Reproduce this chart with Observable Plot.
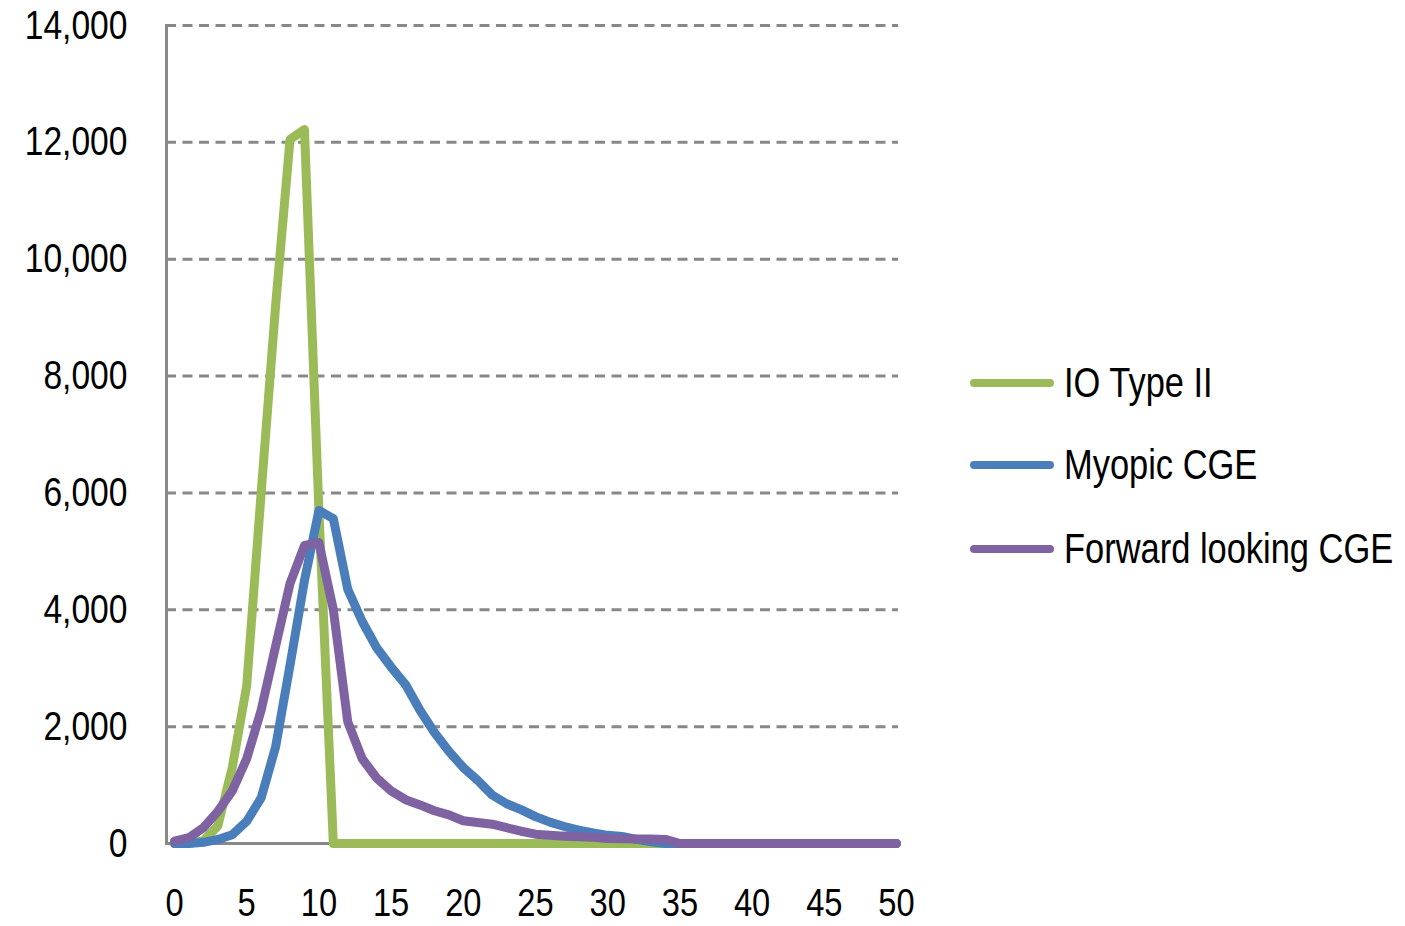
<!DOCTYPE html>
<html>
<head>
<meta charset="utf-8">
<script src="https://cdn.jsdelivr.net/npm/d3@7"></script>
<script src="https://cdn.jsdelivr.net/npm/@observablehq/plot@0.6"></script>
<style>
  html, body { margin: 0; padding: 0; background: #fff; }
  #wrap { position: relative; width: 1405px; height: 926px; overflow: hidden; }
  #legend { position: absolute; left: 968px; top: 0; font-family: "Liberation Sans", sans-serif; font-size: 42px; color: #000; }
  .item { position: absolute; left: 0; display: flex; align-items: center; white-space: nowrap; }
  .item svg { margin-right: 8px; flex: none; }
  .item span { display: inline-block; transform: scaleX(0.82); transform-origin: left center; }
</style>
</head>
<body>
<div id="wrap">
  <div id="chart"></div>
  <div id="legend"></div>
</div>
<script>
const years = d3.range(0, 51);
const seriesNames = ["IO Type II", "Myopic CGE", "Forward looking CGE"];
const seriesColors = ["#9BBB59", "#4A7EBB", "#7F62A1"];

const ioTypeII = [0, 0, 50, 300, 1300, 2700, 6000, 9200, 12050, 12220, 5700,
  0, 0, 0, 0, 0, 0, 0, 0, 0, 0,
  0, 0, 0, 0, 0, 0, 0, 0, 0, 0,
  0, 0, 0, 0, 0, 0, 0, 0, 0, 0,
  0, 0, 0, 0, 0, 0, 0, 0, 0, 0];
const myopicCGE = [0, 0, 20, 70, 150, 380, 780, 1650, 3050, 4500, 5700,
  5560, 4350, 3800, 3350, 3020, 2720, 2280, 1900, 1580, 1300,
  1080, 830, 680, 580, 460, 365, 290, 230, 180, 140,
  120, 70, 30, 0, 0, 0, 0, 0, 0, 0,
  0, 0, 0, 0, 0, 0, 0, 0, 0, 0];
const forwardCGE = [40, 100, 270, 550, 900, 1450, 2280, 3370, 4450, 5100, 5150,
  4000, 2080, 1450, 1120, 900, 750, 660, 560, 490, 390,
  360, 330, 270, 210, 160, 140, 125, 115, 105, 85,
  80, 75, 75, 70, 0, 0, 0, 0, 0, 0,
  0, 0, 0, 0, 0, 0, 0, 0, 0, 0];

const xTicks = d3.range(0, 51, 5);
const yTicks = d3.range(0, 14001, 2000);

const allSeries = [ioTypeII, myopicCGE, forwardCGE];
const data = [];
allSeries.forEach((vals, i) => {
  years.forEach((yr, j) => data.push({series: seriesNames[i], year: yr, value: vals[j]}));
});

const font = '"Liberation Sans", sans-serif';

const chart = Plot.plot({
  width: 1405,
  height: 926,
  marginLeft: 166,
  marginRight: 507,
  marginTop: 25,
  marginBottom: 83,
  style: {fontFamily: font, background: "#fff", color: "#000"},
  x: {domain: [0, 50], range: [174, 896]},
  y: {domain: [0, 14000]},
  color: {domain: seriesNames, range: seriesColors},
  marks: [
    Plot.ruleY(yTicks.filter(d => d > 0), {stroke: "#888", strokeWidth: 3, strokeDasharray: "10,6.5"}),
    Plot.axisY({ticks: yTicks, tickSize: 0, tickPadding: 39, tickFormat: d3.format(","), fontSize: 41, fill: "#000", label: null}),
    Plot.axisX({ticks: xTicks, tickSize: 0, tickPadding: 46, fontSize: 38, fill: "#000", label: null}),
    Plot.ruleY([0], {stroke: "#888", strokeWidth: 3}),
    Plot.frame({anchor: "left", stroke: "#888", strokeWidth: 3}),
    Plot.line(data, {x: "year", y: "value", z: "series", stroke: "series", strokeWidth: 9, strokeLinejoin: "round", strokeLinecap: "round"})
  ]
});
// condense axis text horizontally (narrow face look)
chart.querySelectorAll("g[aria-label='y-axis tick label'] text").forEach(t => {
  const tr = t.getAttribute("transform") || "";
  t.setAttribute("transform", tr + " scale(0.82,1)");
});
chart.querySelectorAll("g[aria-label='x-axis tick label'] text").forEach(t => {
  const tr = t.getAttribute("transform") || "";
  t.setAttribute("transform", tr + " scale(0.86,1)");
});
document.getElementById("chart").appendChild(chart);

const legend = document.getElementById("legend");
const legendTops = [383, 465, 549];
seriesNames.forEach((name, i) => {
  const item = document.createElement("div");
  item.className = "item";
  item.style.top = (legendTops[i] - 25) + "px";
  item.style.height = "50px";
  item.innerHTML = `<svg width="88" height="12"><line x1="6" y1="6" x2="82" y2="6" stroke="${seriesColors[i]}" stroke-width="8" stroke-linecap="round"/></svg><span>${name}</span>`;
  legend.appendChild(item);
});
</script>
</body>
</html>
